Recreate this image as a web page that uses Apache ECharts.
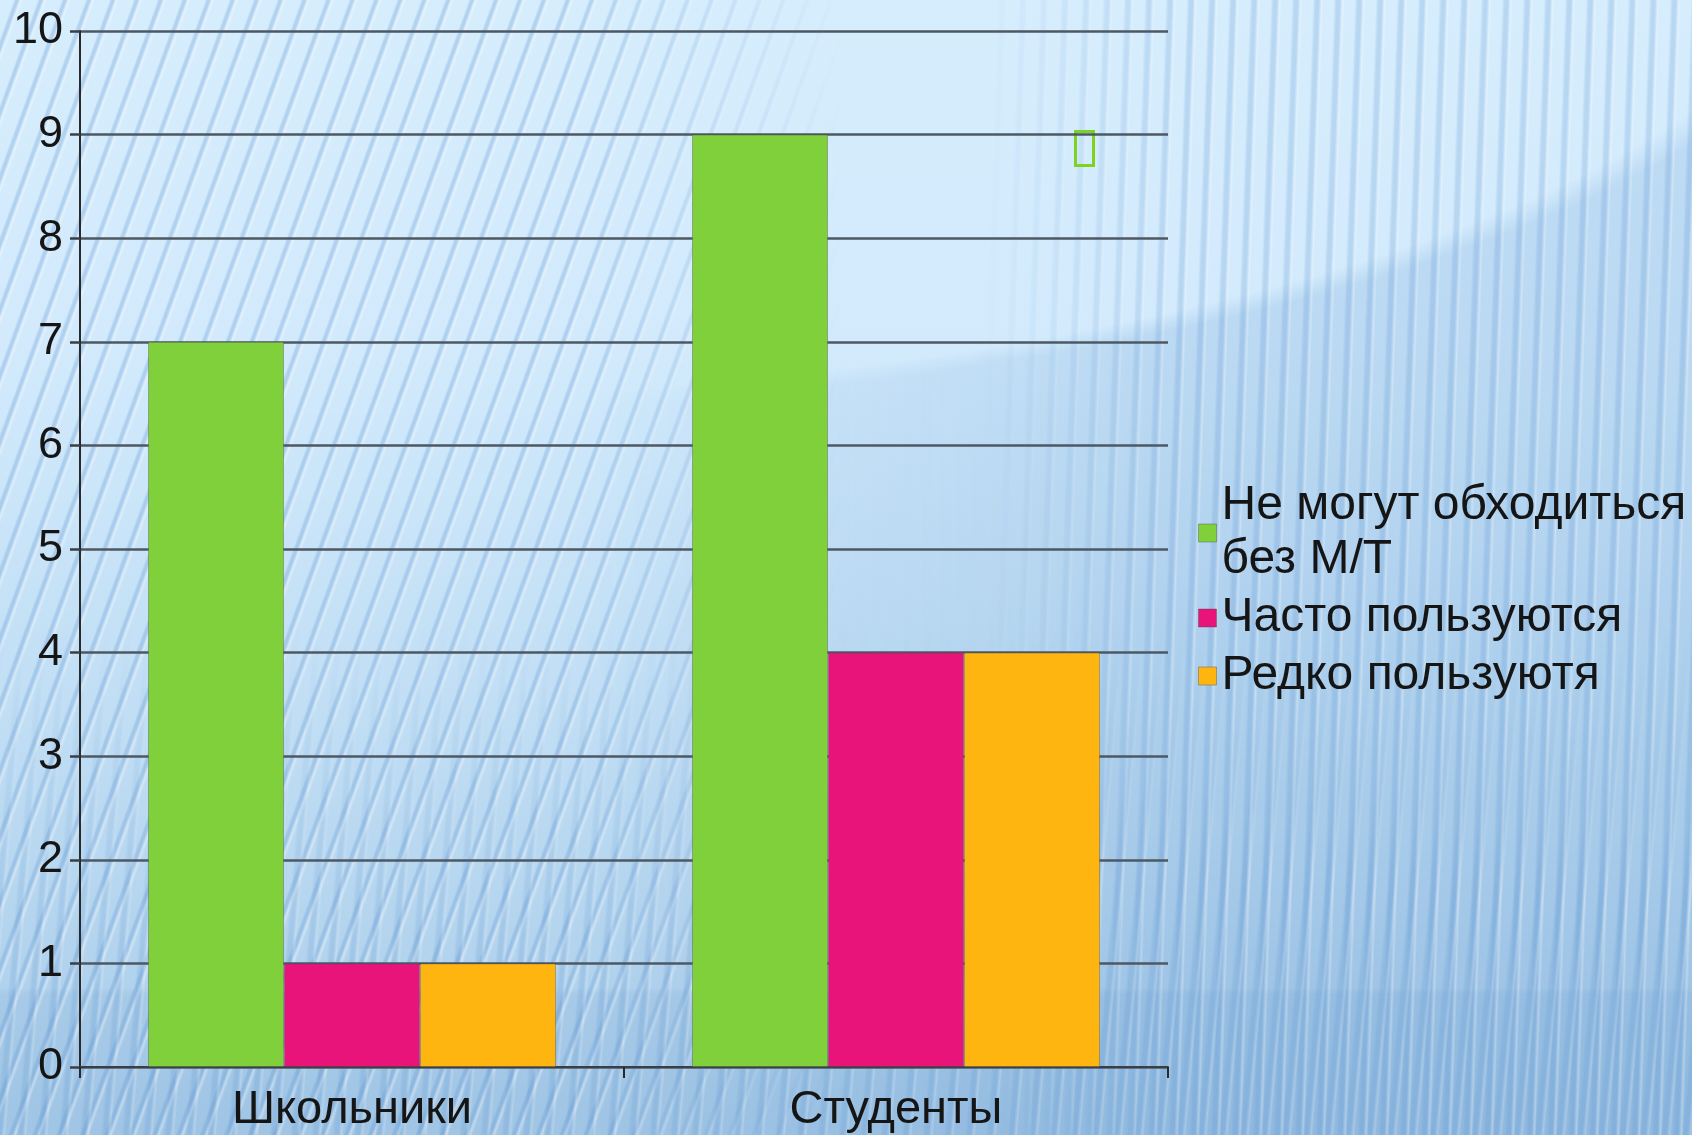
<!DOCTYPE html>
<html>
<head>
<meta charset="utf-8">
<script src="https://cdn.jsdelivr.net/npm/echarts@6/dist/echarts.min.js"></script>
<style>
html,body{margin:0;padding:0;width:1692px;height:1135px;overflow:hidden;}
#bg{position:absolute;left:0;top:0;width:1692px;height:1135px;
 background:
  linear-gradient(180deg, rgba(0,0,0,0) 87%, rgba(40,100,170,0.07) 87.6%),
  linear-gradient(180deg, #d6edfd 0%, #d2eafc 30%, #c2dff5 60%, #a9cce9 100%);}
#dk{position:absolute;left:0;top:0;width:1692px;height:1135px;
 background:radial-gradient(1581px 516px at 300px -100px, rgba(255,255,255,0) 97%, rgba(40,110,185,0.13) 100%);
 -webkit-mask-image:linear-gradient(90deg, rgba(0,0,0,0) 35%, #000 68%);mask-image:linear-gradient(90deg, rgba(0,0,0,0) 35%, #000 68%);}
.st{position:absolute;left:0;top:0;width:1692px;height:1135px;}
#sl{background:repeating-linear-gradient(110deg, rgba(0,0,0,0) 0px, rgba(0,0,0,0) 13px, rgba(95,150,210,0.30) 15px, rgba(95,150,210,0.30) 17px, rgba(255,255,255,0.35) 19.5px, rgba(0,0,0,0) 22.5px);
 -webkit-mask-image:linear-gradient(90deg, #000 0%, #000 34%, rgba(0,0,0,0) 50%);mask-image:linear-gradient(90deg, #000 0%, #000 34%, rgba(0,0,0,0) 50%);}
#sr{background:repeating-linear-gradient(92deg, rgba(0,0,0,0) 0px, rgba(0,0,0,0) 10px, rgba(95,150,210,0.25) 13px, rgba(95,150,210,0.25) 16px, rgba(255,255,255,0.28) 19px, rgba(0,0,0,0) 21px);
 -webkit-mask-image:linear-gradient(90deg, rgba(0,0,0,0) 58%, #000 70%);mask-image:linear-gradient(90deg, rgba(0,0,0,0) 58%, #000 70%);}
#sb{background:repeating-linear-gradient(95deg, rgba(0,0,0,0) 0px, rgba(0,0,0,0) 10px, rgba(95,150,210,0.22) 13px, rgba(95,150,210,0.22) 16px, rgba(255,255,255,0.2) 19px, rgba(0,0,0,0) 21px);
 -webkit-mask-image:linear-gradient(180deg, rgba(0,0,0,0) 55%, #000 85%);mask-image:linear-gradient(180deg, rgba(0,0,0,0) 55%, #000 85%);}
#chart{position:absolute;left:0;top:0;width:1692px;height:1135px;}
</style>
</head>
<body>
<div id="bg"></div>
<div id="dk"></div>
<div id="sl" class="st"></div>
<div id="sr" class="st"></div>
<div id="sb" class="st"></div>
<div id="chart"></div>
<script>
var categories = ['Школьники', 'Студенты'];
var seriesNames = ['Не могут обходиться без М/Т', 'Часто пользуются', 'Редко пользуютя'];
var cannotWithout = [7, 9];
var often = [1, 4];
var rarely = [1, 4];
var yTicks = [0, 1, 2, 3, 4, 5, 6, 7, 8, 9, 10];
var colors = ['#80d03c', '#e8147a', '#ffb50f'];

var chart = echarts.init(document.getElementById('chart'), null, {renderer: 'canvas'});
var font = '"Liberation Sans", Arial, sans-serif';
var values = [cannotWithout, often, rarely];
var option = {
  backgroundColor: 'transparent',
  animation: false,
  color: colors,
  grid: {left: 80, right: 524, top: 31, bottom: 68, containLabel: false},
  legend: {
    orient: 'vertical',
    left: 1193,
    top: 474,
    itemWidth: 18,
    itemHeight: 18,
    itemGap: 4,
    itemTextGap: 3,
    icon: 'rect',
    data: seriesNames,
    formatter: function (n) { return n.replace(' без', '\nбез'); },
    textStyle: {fontFamily: font, fontSize: 48, color: '#151515', lineHeight: 54},
    itemStyle: {borderColor: 'rgba(60,60,60,0.35)', borderWidth: 1}
  },
  xAxis: {
    type: 'category',
    data: categories,
    axisLine: {lineStyle: {color: '#3a3f45', width: 2}},
    axisTick: {show: true, length: 11, lineStyle: {color: '#2a2a2a', width: 2}},
    axisLabel: {fontFamily: font, fontSize: 47, color: '#151515', margin: 20}
  },
  yAxis: {
    type: 'value',
    min: yTicks[0],
    max: yTicks[yTicks.length - 1],
    interval: 1,
    axisLine: {show: true, lineStyle: {color: '#2a2a2a', width: 2}},
    axisTick: {show: true, length: 10, lineStyle: {color: '#3a3f45', width: 2.5}},
    axisLabel: {fontFamily: font, fontSize: 45, color: '#151515', margin: 17},
    splitLine: {show: true, lineStyle: {color: '#4e5863', width: 2.5}}
  },
  series: seriesNames.map(function (name, i) {
    return {
      name: name,
      type: 'bar',
      data: values[i],
      barGap: '0%',
      barCategoryGap: '25%',
      itemStyle: {color: colors[i], borderColor: 'rgba(70,70,70,0.35)', borderWidth: 1}
    };
  }),
  graphic: [{
    type: 'rect',
    left: 1073, top: 129,
    shape: {width: 18, height: 34},
    style: {fill: 'none', stroke: '#7ed321', lineWidth: 3}
  }]
};
chart.setOption(option);
</script>
</body>
</html>
